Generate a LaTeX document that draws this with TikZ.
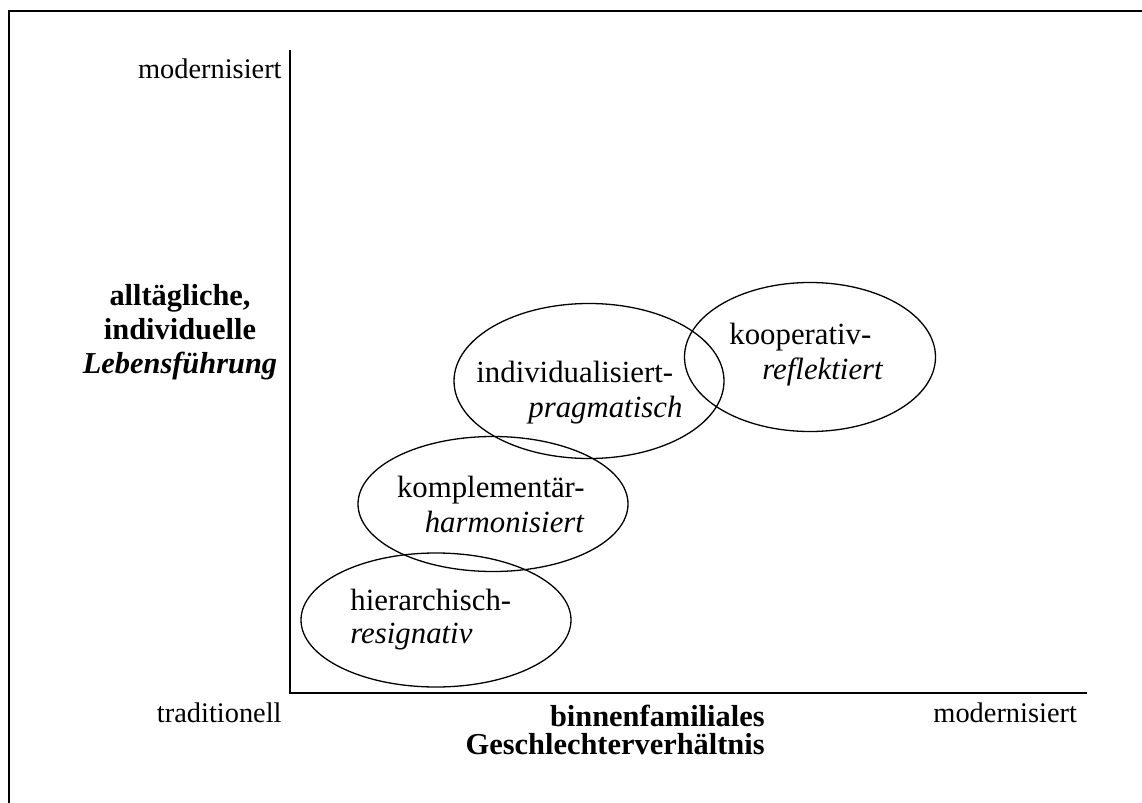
\documentclass[tikz,border=0pt]{standalone}
\usepackage{fontspec}
\setmainfont{Liberation Serif}
\usepackage{tikz}
\usetikzlibrary{shapes.geometric}

\begin{document}
\begin{tikzpicture}[
  x=0.5pt, y=-0.5pt,
  frameline/.style={line width=1pt},
  axisline/.style={line width=1pt},
  cluster/.style={draw, ellipse, line width=0.65pt, inner sep=0pt, minimum width=135pt},
  endlabel/.style={font=\fontsize{14.2}{16.5}\selectfont, inner sep=0pt},
  typ/.style={font=\fontsize{15.4}{17.5}\selectfont, inner sep=0pt, align=left, anchor=base west},
  axtitle/.style={font=\fontsize{15.2}{17}\selectfont\bfseries, inner sep=0pt}
]
\useasboundingbox (0,0) rectangle (1142,803);
\draw[frameline] (9,803) -- (9,11) -- (1142,11);
\coordinate (ytop) at (290,50);
\coordinate (orig) at (290,693);
\coordinate (xend) at (1087,693);
\draw[axisline] (ytop) -- (orig) -- (xend);
\node[endlabel, anchor=base east] (ymod) at (282,78) {modernisiert};
\node[endlabel, anchor=base east] (xtrad) at (282,722) {traditionell};
\node[endlabel, anchor=base west] (xmod) at (933,722) {modernisiert};
\node[axtitle, align=center, anchor=base] (ytitle) at (180,373) {alltägliche,\\individuelle\\\textit{Lebensführung}};
\node[axtitle, align=right, anchor=base east, font=\fontsize{15.2}{14}\selectfont\bfseries] (xtitle) at (765,754) {binnenfamiliales\\Geschlechterverhältnis};
% die vier Typen
\node[cluster, minimum height=67pt] (hier) at (436,620) {};
\node[cluster, minimum height=67.5pt] (kompl) at (493,504) {};
\node[cluster, minimum height=77.5pt] (indiv) at (589,381) {};
\node[cluster, minimum width=125.5pt, minimum height=74.5pt] (koop) at (810,357) {};
\node[typ, font=\fontsize{15.4}{16.5}\selectfont] (hiertxt) at (350,643) {hierarchisch-\\\textit{resignativ}};
\node[typ, align=right, anchor=base east] (kompltxt) at (585,532) {komplementär-\\\textit{harmonisiert}};
\node[typ] (indivtxt) at (476,417) {individualisiert-\\\hspace{26pt}\textit{pragmatisch}};
\node[typ] (kooptxt) at (729,379) {kooperativ-\\\hspace{16.5pt}\textit{reflektiert}};
\end{tikzpicture}
\end{document}
